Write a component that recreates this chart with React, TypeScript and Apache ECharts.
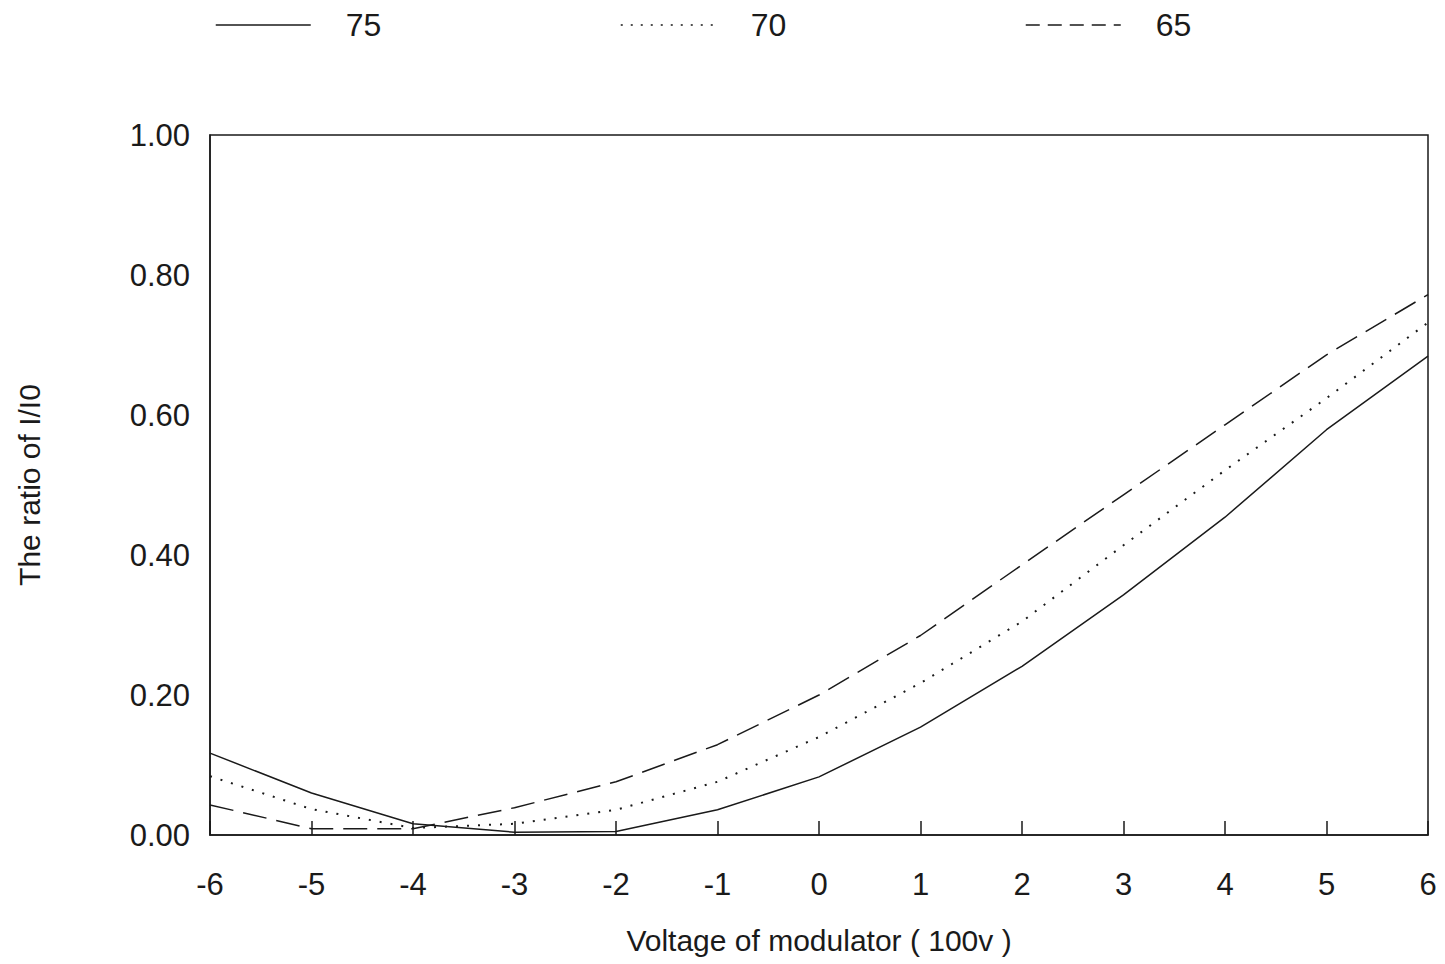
import React, { useEffect, useRef } from "react";
import * as echarts from "echarts";

const xValues = [-6, -5, -4, -3, -2, -1, 0, 1, 2, 3, 4, 5, 6];
const seriesNames = ["75", "70", "65"];
const s75 = [0.117, 0.06, 0.016, 0.004, 0.005, 0.036, 0.083, 0.154, 0.241, 0.343, 0.454, 0.579, 0.684];
const s70 = [0.084, 0.037, 0.01, 0.016, 0.036, 0.076, 0.14, 0.217, 0.305, 0.414, 0.521, 0.624, 0.732];
const s65 = [0.043, 0.009, 0.009, 0.039, 0.076, 0.129, 0.2, 0.285, 0.386, 0.486, 0.586, 0.686, 0.772];
const yTickLabels = ["0.00", "0.20", "0.40", "0.60", "0.80", "1.00"];

const FONT = "'Liberation Sans', Arial, sans-serif";
const INK = "#1a1a1a";

export default function App() {
  const ref = useRef<HTMLDivElement>(null);
  useEffect(() => {
    if (!ref.current) return;
    const chart = echarts.init(ref.current, undefined, { renderer: "svg" });
    const pair = (vals: number[]) => xValues.map((x, i) => [x, vals[i]]);
    const legendBase = (name: string, left: number, dash: any) => ({
      data: [name],
      left,
      top: 4,
      itemWidth: 95,
      itemHeight: 14,
      itemStyle: { opacity: 0 },
      lineStyle: { type: dash, width: 1.5, color: INK },
      textStyle: {
        fontFamily: FONT,
        fontSize: 32,
        color: INK,
        padding: [0, 0, 0, 30],
      },
    });
    chart.setOption({
      animation: false,
      backgroundColor: "#fff",
      legend: [
        legendBase(seriesNames[0], 210, "solid"),
        legendBase(seriesNames[1], 615, [2, 8]),
        legendBase(seriesNames[2], 1020, [14, 8]),
      ],
      grid: {
        left: 210,
        right: 17,
        top: 135,
        bottom: 129,
        show: true,
        borderColor: INK,
        borderWidth: 1.5,
        backgroundColor: "transparent",
      },
      xAxis: {
        type: "value",
        min: -6,
        max: 6,
        interval: 1,
        name: "Voltage of modulator ( 100v )",
        nameLocation: "middle",
        nameGap: 90,
        nameTextStyle: { fontFamily: FONT, fontSize: 30, color: INK },
        axisLine: { show: true, onZero: false, lineStyle: { color: INK, width: 1.5 } },
        axisTick: { show: true, inside: true, length: 14, lineStyle: { color: INK, width: 1.5 } },
        axisLabel: { fontFamily: FONT, fontSize: 31, color: INK, margin: 34 },
        splitLine: { show: false },
      },
      yAxis: {
        type: "value",
        min: 0,
        max: 1,
        interval: 0.2,
        name: "The ratio of I/I0",
        nameLocation: "middle",
        nameGap: 166,
        nameTextStyle: { fontFamily: FONT, fontSize: 30, color: INK },
        axisLine: { show: true, onZero: false, lineStyle: { color: INK, width: 1.5 } },
        axisTick: { show: false },
        axisLabel: {
          fontFamily: FONT,
          fontSize: 31,
          color: INK,
          margin: 20,
          formatter: (v: number) => yTickLabels[Math.round(v / 0.2)] ?? v.toFixed(2),
        },
        splitLine: { show: false },
      },
      series: [
        {
          name: seriesNames[0],
          type: "line",
          data: pair(s75),
          symbol: "none",
          lineStyle: { color: INK, width: 1.5, type: "solid" },
          itemStyle: { color: INK },
        },
        {
          name: seriesNames[1],
          type: "line",
          data: pair(s70),
          symbol: "none",
          lineStyle: { color: INK, width: 2, type: [2, 9] },
          itemStyle: { color: INK },
        },
        {
          name: seriesNames[2],
          type: "line",
          data: pair(s65),
          symbol: "none",
          lineStyle: { color: INK, width: 1.5, type: [24, 10] },
          itemStyle: { color: INK },
        },
      ],
    });
    return () => chart.dispose();
  }, []);
  return <div ref={ref} style={{ width: 1445, height: 964, position: "absolute", left: 0, top: 0 }} />;
}
